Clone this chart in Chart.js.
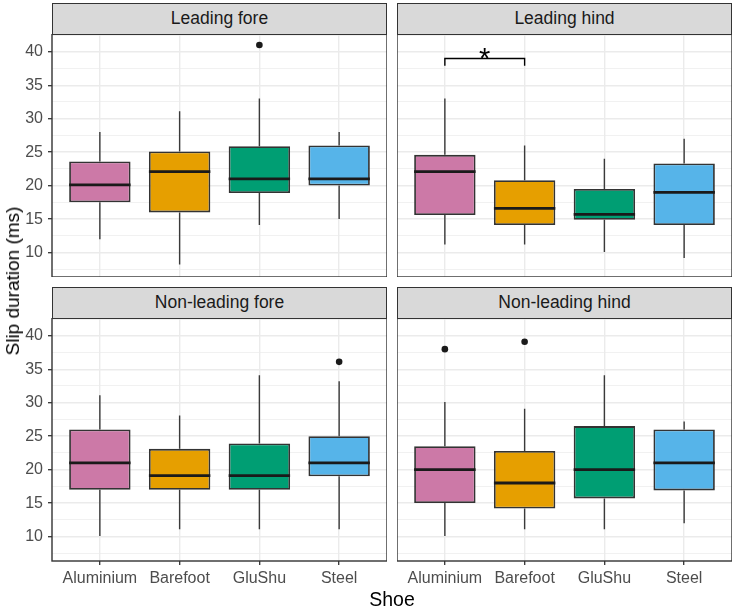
<!DOCTYPE html>
<html lang="en">
<head>
    <meta charset="UTF-8">
    <title>Slip duration by shoe</title>
    <script src="https://cdn.jsdelivr.net/npm/chart.js"></script>
    <style>
        body { margin: 0; background: #fff; font-family: "Liberation Sans", Arial, sans-serif; }
        #wrap { position: relative; width: 737px; height: 610px; overflow: hidden; }
        .strip {
            position: absolute; box-sizing: border-box; background: #d9d9d9;
            border: 1.2px solid #333; text-align: center; color: #1a1a1a;
            font-size: 17.5px; line-height: 29px;
        }
        .panel { position: absolute; }
        #ytitle {
            position: absolute; left: 13px; top: 281px; white-space: nowrap;
            transform: translate(-50%, -50%) rotate(-90deg); font-size: 19px; color: #000;
        }
        #xtitle {
            position: absolute; left: 392px; top: 599px; white-space: nowrap;
            transform: translate(-50%, -50%); font-size: 19.5px; color: #000;
        }
    </style>
</head>
<body>
    <div id="wrap">
        <div id="ytitle">Slip duration (ms)</div>
        <div id="xtitle">Shoe</div>
    </div>

    <script>
        const shoes = ['Aluminium', 'Barefoot', 'GluShu', 'Steel'];
        const colours = ['#CC79A7', '#E69F00', '#009E73', '#56B4E9'];

        // five numbers per shoe: lower whisker, Q1, median, Q3, upper whisker
        const leadingFore = [[12, 17.5, 20.1, 23.6, 28], [8.2, 16, 22.1, 25.1, 31.1], [14.1, 18.9, 21, 25.9, 33], [15, 20, 21, 26, 28]];
        const leadingHind = [[11.2, 15.6, 22.1, 24.6, 33], [11.2, 14.1, 16.6, 20.8, 26], [10.1, 14.9, 15.7, 19.5, 24], [9.2, 14.1, 19, 23.3, 27]];
        const nonLeadingFore = [[10.1, 17, 21, 26, 31.1], [11.1, 17, 19.1, 23.1, 28.1], [11.1, 17, 19.1, 23.9, 34.1], [11.1, 19, 21, 25, 33.2]];
        const nonLeadingHind = [[10.1, 15, 20, 23.5, 30.1], [11.1, 14.2, 18, 22.8, 29.1], [11.1, 15.7, 20, 26.5, 34.1], [12, 16.9, 21, 26, 27.2]];

        // outliers as [shoe index, value]
        const leadingForeOut = [[2, 41]];
        const leadingHindOut = [];
        const nonLeadingForeOut = [[3, 36.1]];
        const nonLeadingHindOut = [[0, 38], [1, 39.1]];

        const yMin = 6.35, yMax = 42.65;

        const panels = [
            { title: 'Leading fore', stats: leadingFore, out: leadingForeOut, left: 20, top: 34, w: 367, showY: true, showX: false },
            { title: 'Leading hind', stats: leadingHind, out: leadingHindOut, left: 397, top: 34, w: 335, showY: false, showX: false,
              bracket: { from: 0, to: 1, y: 39, drop: 1.1, label: '*' } },
            { title: 'Non-leading fore', stats: nonLeadingFore, out: nonLeadingForeOut, left: 20, top: 318, w: 367, showY: true, showX: true },
            { title: 'Non-leading hind', stats: nonLeadingHind, out: nonLeadingHindOut, left: 397, top: 318, w: 335, showY: false, showX: true }
        ];

        const font = { family: '"Liberation Sans", Arial, sans-serif', size: 16 };

        // whiskers under the boxes, medians, border and bracket on top
        const boxPlot = {
            id: 'boxPlot',
            beforeDatasetsDraw(chart, args, opts) {
                const { ctx, scales: { x, y } } = chart;
                ctx.save();
                ctx.strokeStyle = '#3a3a3a';
                ctx.lineWidth = 1.4;
                opts.stats.forEach((s, i) => {
                    const px = x.getPixelForValue(i);
                    ctx.beginPath();
                    ctx.moveTo(px, y.getPixelForValue(s[0]));
                    ctx.lineTo(px, y.getPixelForValue(s[1]));
                    ctx.moveTo(px, y.getPixelForValue(s[3]));
                    ctx.lineTo(px, y.getPixelForValue(s[4]));
                    ctx.stroke();
                });
                ctx.restore();
            },
            afterDatasetsDraw(chart, args, opts) {
                const { ctx, scales: { x, y } } = chart;
                const meta = chart.getDatasetMeta(0);
                ctx.save();
                ctx.strokeStyle = '#1a1a1a';
                ctx.lineWidth = 2.8;
                opts.stats.forEach((s, i) => {
                    const bar = meta.data[i];
                    const py = y.getPixelForValue(s[2]);
                    ctx.beginPath();
                    ctx.moveTo(bar.x - bar.width / 2, py);
                    ctx.lineTo(bar.x + bar.width / 2, py);
                    ctx.stroke();
                });
                const b = opts.bracket;
                if (b) {
                    const x0 = x.getPixelForValue(b.from), x1 = x.getPixelForValue(b.to);
                    const yTop = y.getPixelForValue(b.y), yLow = y.getPixelForValue(b.y - b.drop);
                    ctx.strokeStyle = '#000';
                    ctx.lineWidth = 1.4;
                    ctx.beginPath();
                    ctx.moveTo(x0, yLow);
                    ctx.lineTo(x0, yTop);
                    ctx.lineTo(x1, yTop);
                    ctx.lineTo(x1, yLow);
                    ctx.stroke();
                    ctx.fillStyle = '#000';
                    ctx.font = '29px "Liberation Sans", Arial, sans-serif';
                    ctx.textAlign = 'center';
                    ctx.textBaseline = 'alphabetic';
                    ctx.fillText(b.label, (x0 + x1) / 2, yTop + 10);
                }
                ctx.restore();
            },
            afterDraw(chart) {
                const { ctx, chartArea: a } = chart;
                ctx.save();
                ctx.strokeStyle = '#333';
                ctx.lineWidth = 1.4;
                ctx.strokeRect(a.left, a.top, a.right - a.left, a.bottom - a.top);
                ctx.restore();
            }
        };

        const wrap = document.getElementById('wrap');

        panels.forEach(p => {
            const strip = document.createElement('div');
            strip.className = 'strip';
            strip.textContent = p.title;
            const plotLeft = p.showY ? p.left + 32 : p.left;
            strip.style.left = plotLeft + 'px';
            strip.style.top = (p.top - 31) + 'px';
            strip.style.width = (p.left + p.w - plotLeft) + 'px';
            strip.style.height = '32px';
            wrap.appendChild(strip);

            const box = document.createElement('div');
            box.className = 'panel';
            const h = p.showX ? 273 : 243;
            box.style.left = p.left + 'px';
            box.style.top = p.top + 'px';
            box.style.width = p.w + 'px';
            box.style.height = h + 'px';
            const canvas = document.createElement('canvas');
            box.appendChild(canvas);
            wrap.insertBefore(box, wrap.firstChild);

            new Chart(canvas, {
                type: 'bar',
                data: {
                    datasets: [
                        {
                            data: p.stats.map((s, i) => ({ x: i, y: [s[1], s[3]] })),
                            backgroundColor: colours,
                            borderColor: '#333',
                            borderWidth: 1.8,
                            borderSkipped: false,
                            barPercentage: 0.77,
                            categoryPercentage: 1,
                            order: 1
                        },
                        {
                            type: 'scatter',
                            data: p.out.map(o => ({ x: o[0], y: o[1] })),
                            backgroundColor: '#1a1a1a',
                            borderWidth: 0,
                            pointRadius: 3.3,
                            order: 0
                        }
                    ]
                },
                options: {
                    responsive: true,
                    maintainAspectRatio: false,
                    animation: false,
                    layout: { padding: 0, autoPadding: false },
                    plugins: {
                        legend: { display: false },
                        tooltip: { enabled: false },
                        boxPlot: { stats: p.stats, bracket: p.bracket }
                    },
                    scales: {
                        x: {
                            type: 'linear',
                            min: -0.6,
                            max: 3.6,
                            offset: false,
                            border: { display: false },
                            grid: {
                                offset: false,
                                color: '#ebebeb', lineWidth: 1.4, tickColor: '#333',
                                drawTicks: p.showX, tickLength: 4, tickWidth: 1.3
                            },
                            ticks: {
                                display: p.showX, stepSize: 1, includeBounds: false,
                                autoSkip: false, maxRotation: 0, padding: 4,
                                color: '#4d4d4d', font,
                                callback: v => shoes[v] ?? ''
                            },
                            afterFit: s => {
                                s.height = p.showX ? 30 : 0;
                                s.paddingLeft = 0; s.paddingRight = 0;
                            }
                        },
                        y: {
                            min: yMin,
                            max: yMax,
                            border: { display: false },
                            grid: {
                                color: '#ebebeb',
                                lineWidth: c => (c.tick && c.tick.value % 5 === 0 ? 1.4 : 0.7),
                                tickColor: c => (c.tick && c.tick.value % 5 === 0 ? '#333' : 'rgba(0,0,0,0)'),
                                drawTicks: p.showY, tickLength: 4, tickWidth: 1.3
                            },
                            ticks: {
                                display: p.showY, stepSize: 2.5, includeBounds: false, autoSkip: false,
                                padding: 5, color: '#4d4d4d', font,
                                callback: v => (v % 5 === 0 ? v : '')
                            },
                            afterFit: s => {
                                s.width = p.showY ? 32 : 0;
                                s.paddingTop = 0; s.paddingBottom = 0;
                            }
                        }
                    }
                },
                plugins: [boxPlot]
            });
        });
    </script>
</body>
</html>
